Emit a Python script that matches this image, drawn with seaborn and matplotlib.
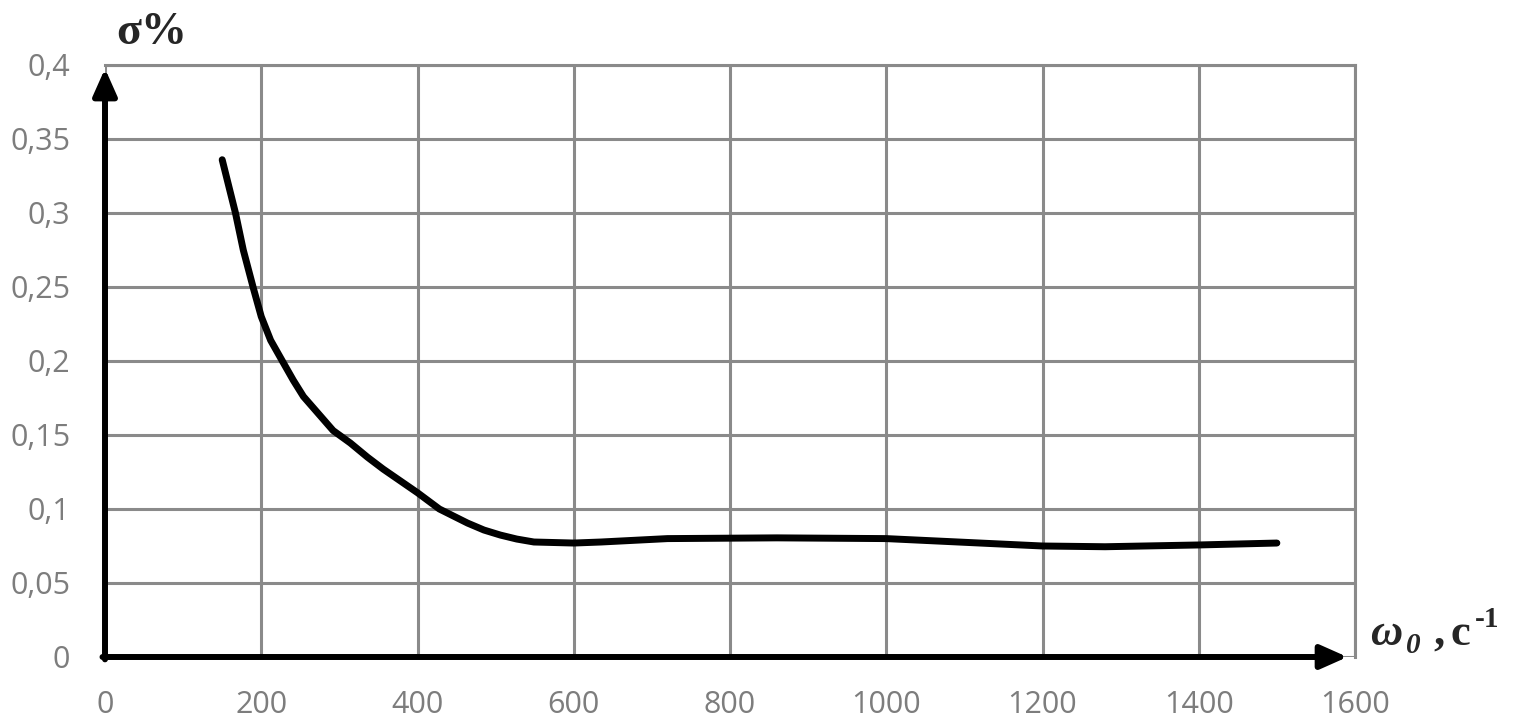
import matplotlib
matplotlib.use("Agg")
import matplotlib.pyplot as plt
import seaborn as sns
import pandas as pd

# значения
omega = [150, 167, 177, 190, 200, 212, 227, 241, 254, 292, 314, 336, 356, 378, 400,
         428, 464, 485, 506, 527, 549, 600, 635, 720, 860, 1000, 1080, 1200, 1280, 1400, 1500]
sigma = [0.336, 0.300, 0.275, 0.249, 0.230, 0.214, 0.200, 0.187, 0.176, 0.153, 0.1446,
         0.135, 0.127, 0.119, 0.111, 0.100, 0.0905, 0.0858, 0.0824, 0.0797, 0.0777, 0.077,
         0.0777, 0.080, 0.0805, 0.080, 0.078, 0.075, 0.0745, 0.0757, 0.077]
x_ticks = [0, 200, 400, 600, 800, 1000, 1200, 1400, 1600]
y_ticks = [0, 0.05, 0.1, 0.15, 0.2, 0.25, 0.3, 0.35, 0.4]
y_labels = ["0", "0,05", "0,1", "0,15", "0,2", "0,25", "0,3", "0,35", "0,4"]

df = pd.DataFrame({"omega": omega, "sigma": sigma})

sns.set_style("white")
plt.rcParams["font.family"] = ["Open Sans", "DejaVu Sans"]

W, H = 1518, 721
fig = plt.figure(figsize=(W / 100, H / 100), dpi=100)
ax = fig.add_axes([105 / W, 64 / H, 1250 / W, 592 / H])

grid_c = "#8a8a8a"
ax.set_xlim(0, 1600)
ax.set_ylim(0, 0.4)
ax.set_xticks(x_ticks)
ax.set_yticks(y_ticks)
ax.set_yticklabels(y_labels)
ax.grid(True, color=grid_c, lw=2.2)
ax.tick_params(length=0, labelsize=22, labelcolor="#7d7d7d")
ax.tick_params(axis="y", pad=25)
ax.tick_params(axis="x", pad=24)

for s in ["top", "right"]:
    ax.spines[s].set_color(grid_c)
    ax.spines[s].set_linewidth(2.2)
for s in ["left", "bottom"]:
    ax.spines[s].set_visible(False)

sns.lineplot(data=df, x="omega", y="sigma", ax=ax, color="black", lw=5,
             solid_capstyle="round", solid_joinstyle="round")
ax.set_xlabel("")
ax.set_ylabel("")

# оси со стрелками
arrow = dict(arrowstyle="-|>,head_length=0.9,head_width=0.4", lw=4.3, color="black",
             mutation_scale=18, shrinkA=0, shrinkB=0)
ax.annotate("", xy=(0.994, 0), xytext=(-0.002, 0), xycoords="axes fraction",
            arrowprops=arrow, annotation_clip=False)
ax.annotate("", xy=(0, 0.994), xytext=(0, -0.004), xycoords="axes fraction",
            arrowprops=arrow, annotation_clip=False)

serif = "Liberation Serif"
fig.text(116 / W, 1 - 44 / H, "σ%", fontsize=33, fontweight="bold",
         family=serif, va="baseline", ha="left")

# подпись оси абсцисс: ω0 , c-1
fig.text(1370 / W, 1 - 645 / H, "ω", fontsize=32, fontweight="bold", fontstyle="italic",
         family=serif, va="baseline", ha="left")
fig.text(1406 / W, 1 - 653 / H, "0", fontsize=21, fontweight="bold", fontstyle="italic",
         family=serif, va="baseline", ha="left")
fig.text(1433 / W, 1 - 645 / H, ",", fontsize=32, fontweight="bold",
         family=serif, va="baseline", ha="left")
fig.text(1450 / W, 1 - 645 / H, "c", fontsize=32, fontweight="bold",
         family=serif, va="baseline", ha="left")
fig.text(1475 / W, 1 - 627 / H, "-1", fontsize=21, fontweight="bold",
         family=serif, va="baseline", ha="left")

fig.savefig("out.png", dpi=100, facecolor="white")
